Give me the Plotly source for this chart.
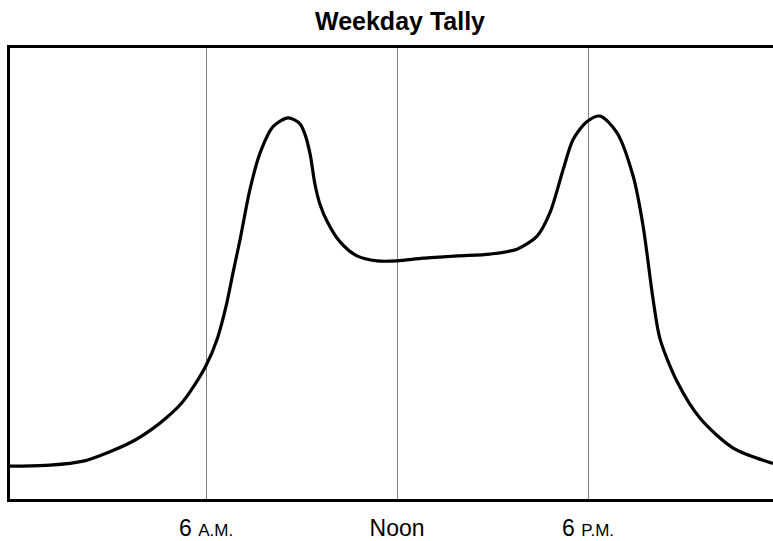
import plotly.graph_objects as go

# Hours of the day (0 = midnight) and tally values (0-100 scale)
hours = [-0.16, 0.16, 1.10, 2.14, 2.98, 3.70, 4.30, 4.80, 5.20, 5.50, 6.00, 6.35, 6.63, 6.85,
         7.07, 7.38, 7.70, 8.11, 8.58, 8.95, 9.11, 9.27, 9.42, 9.58, 9.80, 10.21, 10.74,
         11.37, 12.00, 12.82, 13.89, 14.92, 15.77, 16.40, 16.81, 17.22, 17.53, 17.97,
         18.38, 18.91, 19.42, 19.73, 20.04, 20.26, 20.80, 21.52, 22.56, 23.81]
tally = [7.3, 7.3, 7.5, 8.4, 10.5, 12.8, 15.5, 18.3, 21.0, 23.8, 29.6, 35.5, 42.8, 50.3,
         57.6, 68.7, 76.8, 82.6, 84.5, 83.2, 80.8, 76.4, 69.8, 65.3, 61.6, 57.0, 53.9,
         52.8, 52.8, 53.4, 53.9, 54.3, 55.4, 58.3, 63.6, 73.1, 79.7, 83.7,
         84.9, 81.2, 71.5, 60.5, 44.4, 35.5, 26.0, 17.9, 11.3, 7.9]

tick_vals = [6, 12, 18]
tick_text = ['6 <span style="font-size:17px">A.M.</span>',
             'Noon',
             '6 <span style="font-size:17px">P.M.</span>']

fig = go.Figure()
fig.add_trace(go.Scatter(
    x=hours, y=tally, mode="lines",
    line=dict(color="black", width=3.2, shape="spline", smoothing=0.8),
    hoverinfo="skip", showlegend=False,
))

W, H = 773, 541
fig.update_layout(
    width=W, height=H,
    margin=dict(l=10, r=0, t=48, b=40),
    paper_bgcolor="white", plot_bgcolor="white",
    font=dict(family="Liberation Sans, Arial, sans-serif", color="black"),
    title=dict(text="<b>Weekday Tally</b>", x=400/W, xanchor="center",
               y=1 - 21/H, yanchor="middle",
               font=dict(size=25, color="black")),
    xaxis=dict(range=[-0.16, 23.81], tickvals=tick_vals, ticktext=tick_text,
               showgrid=True, gridcolor="#808080", gridwidth=1,
               showline=True, linecolor="black", linewidth=2.5, mirror=True,
               ticks="outside", ticklen=7, tickcolor="rgba(0,0,0,0)",
               tickfont=dict(size=23), zeroline=False),
    yaxis=dict(range=[0, 100], showticklabels=False, showgrid=False,
               showline=True, linecolor="black", linewidth=2.5,
               ticks="", zeroline=False),
)

fig.write_html("out.html", config={"displayModeBar": False},
               post_script="document.body.style.margin='0';document.body.style.overflow='hidden';")
